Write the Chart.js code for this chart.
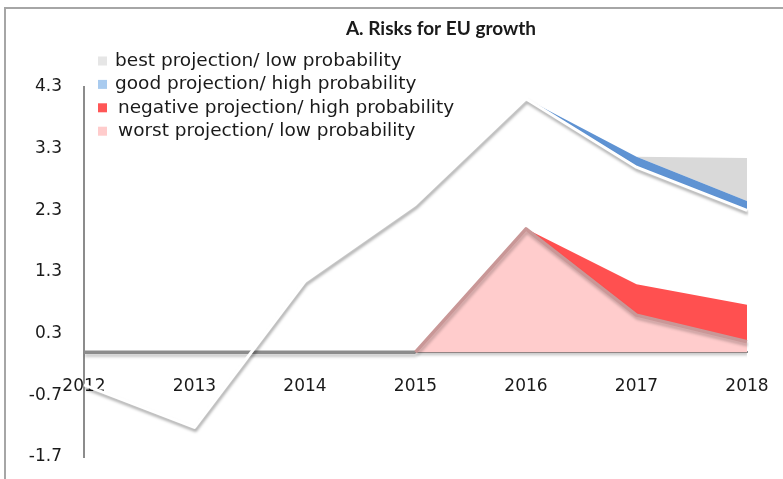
<!DOCTYPE html>
<html>
<head>
<title>A. Risks for EU growth</title>
<script src="https://cdn.jsdelivr.net/npm/chart.js@4.4.1/dist/chart.umd.min.js"></script>
<style>
body { margin:0; background:#fff; }
#wrap { position:relative; width:783px; height:479px; overflow:hidden; }
#frame { position:absolute; left:4px; top:7px; width:800px; height:500px; border-left:2px solid #a6a6a6; border-top:2px solid #a6a6a6; }
canvas { position:absolute; left:0; top:0; }
</style>
</head>
<body>
<div id="wrap">
<div id="frame"></div>
<canvas id="myChart" width="783" height="479"></canvas>
</div>
<script>
var chartTitle = 'A. Risks for EU growth';
var years = ['2012', '2013', '2014', '2015', '2016', '2017', '2018'];
var yTicks = [-1.7, -0.7, 0.3, 1.3, 2.3, 3.3, 4.3];

// series
var central  = [-0.53, -1.22, 1.15, 2.4, 4.11, 3.0, 2.3];
var best     = [null, null, null, null, null, 3.17, 3.15];
var good     = [null, null, null, null, 4.11, 3.17, 2.45];
var negative = [null, null, null, null, 2.0, 1.1, 0.77];
var worst    = [0, 0, 0, 0, 2.0, 0.6, 0.17];

var legendColors = ['#e6e6e6', '#a9cbef', '#ff5656', '#ffcccc'];

Chart.defaults.font.family = 'DejaVu Sans';

function setShadow(ctx, ds) {
  if (ds && ds.shadowColor) {
    ctx.shadowColor = ds.shadowColor;
    ctx.shadowBlur = 3;
    ctx.shadowOffsetX = 1;
    ctx.shadowOffsetY = 3;
  } else {
    ctx.shadowColor = 'rgba(0,0,0,0)';
    ctx.shadowBlur = 0;
    ctx.shadowOffsetX = 0;
    ctx.shadowOffsetY = 0;
  }
}

// shadow has to be set before the filler paints the area, so it is set
// after the previous dataset finished
var shadowPlugin = {
  id: 'shadows',
  beforeDatasetsDraw: function(chart) {
    var metas = chart.getSortedVisibleDatasetMetas();
    setShadow(chart.ctx, chart.data.datasets[metas[metas.length - 1].index]);
  },
  afterDatasetDraw: function(chart, args) {
    var metas = chart.getSortedVisibleDatasetMetas();
    var next = metas[metas.indexOf(args.meta) - 1];
    setShadow(chart.ctx, next ? chart.data.datasets[next.index] : null);
  }
};

var titleLegend = {
  id: 'titleLegend',
  afterDraw: function(chart) {
    var ctx = chart.ctx;
    ctx.save();
    ctx.fillStyle = '#1a1a1a';
    ctx.textBaseline = 'middle';
    ctx.textAlign = 'center';
    ctx.font = 'bold 19px Lato';
    ctx.fillText(chartTitle, 441, 29);
    ctx.textAlign = 'left';
    ctx.font = '18.5px "DejaVu Sans"';
    for (var i = 0; i < 4; i++) {
      var y = 61 + i * 23.4;
      ctx.fillStyle = legendColors[i];
      ctx.fillRect(98, y - 4.5, 9, 9);
      ctx.fillStyle = '#1a1a1a';
      ctx.fillText(chart.data.datasets[i].label, i < 2 ? 115 : 118, y);
    }
    ctx.restore();
  }
};

function noPad(s) { s.paddingLeft = 0; s.paddingRight = 0; s.paddingTop = 0; s.paddingBottom = 0; }

var ctx = document.getElementById('myChart').getContext('2d');
var chart = new Chart(ctx, {
  type: 'line',
  data: {
    labels: years,
    datasets: [
      { label: 'best projection/ low probability', data: best, order: 2, fill: 1,
        backgroundColor: '#d9d9d9', borderWidth: 0, borderColor: 'rgba(0,0,0,0)', pointRadius: 0 },
      { label: 'good projection/ high probability', data: good, order: 1, fill: 4,
        backgroundColor: '#5f93d3', borderWidth: 0, borderColor: 'rgba(0,0,0,0)', pointRadius: 0 },
      { label: 'negative projection/ high probability', data: negative, order: 4, fill: 3,
        backgroundColor: '#ff5050', borderWidth: 0, borderColor: 'rgba(0,0,0,0)', pointRadius: 0 },
      { label: 'worst projection/ low probability', data: worst, order: 3, fill: 'origin',
        backgroundColor: '#ffcccc', borderWidth: 3.5, borderColor: '#c99797', pointRadius: 0,
        shadowColor: 'rgba(0,0,0,0.22)',
        segment: { borderColor: function(c) { return (c.p0.parsed.y === 0 && c.p1.parsed.y === 0) ? '#8c8c8c' : '#c99797'; } } },
      { label: 'central', data: central, order: 0, fill: false,
        borderColor: '#ffffff', borderWidth: 3, pointRadius: 0,
        shadowColor: 'rgba(0,0,0,0.35)' }
    ]
  },
  options: {
    responsive: false,
    animation: false,
    layout: { padding: { left: 0, right: 36, top: 87, bottom: 22 } },
    plugins: { legend: { display: false }, title: { display: false }, tooltip: { enabled: false } },
    elements: { line: { tension: 0, borderJoinStyle: 'round' } },
    scales: {
      x: {
        offset: false,
        position: { y: 0 },
        afterFit: noPad,
        grid: { display: false, drawTicks: false },
        border: { display: true, color: '#8c8c8c', width: 2 },
        ticks: { padding: 24, maxRotation: 0, autoSkip: false, color: '#1a1a1a', font: { size: 17 } }
      },
      y: {
        min: -1.7,
        max: 4.3,
        afterBuildTicks: function(s) { s.ticks = yTicks.map(function(v) { return { value: v }; }); },
        afterFit: function(s) { s.width = 84; noPad(s); },
        grid: { display: false, drawTicks: false },
        border: { display: true, color: '#8c8c8c', width: 2 },
        ticks: { padding: 22, color: '#1a1a1a', font: { size: 17 },
          callback: function(v) { return v.toFixed(1); } }
      }
    }
  },
  plugins: [shadowPlugin, titleLegend]
});
</script>
</body>
</html>
